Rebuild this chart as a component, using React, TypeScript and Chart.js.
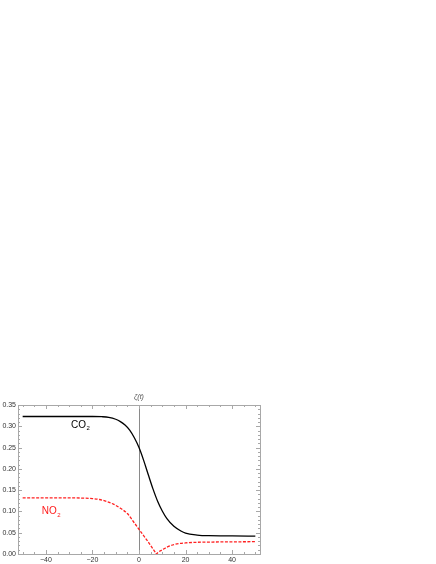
import React, { useEffect, useRef } from "react";
import { Chart, registerables } from "chart.js";

Chart.register(...registerables);

// ---- data ----
const co2X = [-50, -40, -30, -20, -16, -13, -10, -8, -6, -4, -2, 0, 2, 4, 6, 8, 10, 12, 15, 18, 20, 25, 30, 40, 50];
const co2Y = [0.323, 0.323, 0.323, 0.323, 0.3225, 0.321, 0.3165, 0.311, 0.303, 0.291, 0.273, 0.25, 0.22, 0.186, 0.153, 0.124, 0.101, 0.083, 0.065, 0.054, 0.049, 0.0445, 0.043, 0.0425, 0.042];

const no2X = [-50, -40, -30, -25, -20, -17, -14, -11, -8, -5, -2, 0, 2, 4, 6, 7, 7.5, 8, 9, 10, 12, 15, 20, 25, 30, 40, 50];
const no2Y = [0.132, 0.132, 0.1318, 0.1315, 0.1302, 0.128, 0.1235, 0.117, 0.1075, 0.095, 0.073, 0.058, 0.043, 0.028, 0.012, 0.004, 0.0, 0.003, 0.007, 0.0098, 0.016, 0.0222, 0.026, 0.0275, 0.028, 0.0285, 0.029];

const xTicks = [-40, -20, 0, 20, 40];
const yTicks = [0, 0.05, 0.1, 0.15, 0.2, 0.25, 0.3, 0.35];
const xRange = [-52, 52];
const yRange = [0, 0.35];
const xMinorStep = 5;
const yMinorStep = 0.01;

const FONT = '"Liberation Sans", Arial, sans-serif';

const framePlugin = {
  id: "framePlugin",
  beforeDatasetsDraw(chart: any) {
    const { ctx, chartArea: a, scales } = chart;
    const xs = scales.x;
    const ys = scales.y;
    ctx.save();
    // vertical axis line at x = 0
    const x0 = Math.round(xs.getPixelForValue(0)) + 0.5;
    ctx.strokeStyle = "#8a8a8a";
    ctx.lineWidth = 1;
    ctx.beginPath();
    ctx.moveTo(x0, a.top);
    ctx.lineTo(x0, a.bottom);
    ctx.stroke();

    // frame
    ctx.strokeStyle = "#a8a8a8";
    ctx.lineWidth = 1;
    ctx.strokeRect(Math.round(a.left) + 0.5, Math.round(a.top) + 0.5, Math.round(a.right - a.left), Math.round(a.bottom - a.top));

    // ticks
    const major = 4;
    const minor = 2;
    ctx.beginPath();
    for (let v = -50; v <= 50.0001; v += xMinorStep) {
      const px = Math.round(xs.getPixelForValue(v)) + 0.5;
      const isMajor = xTicks.some((t) => Math.abs(t - v) < 1e-6);
      const len = isMajor ? major : minor;
      ctx.moveTo(px, a.bottom);
      ctx.lineTo(px, a.bottom - len);
      ctx.moveTo(px, a.top);
      ctx.lineTo(px, a.top + len);
    }
    for (let i = 0; i <= 35; i++) {
      const v = i * yMinorStep;
      const py = Math.round(ys.getPixelForValue(v)) + 0.5;
      const isMajor = i % 5 === 0;
      const len = isMajor ? major : minor;
      ctx.moveTo(a.left, py);
      ctx.lineTo(a.left + len, py);
      ctx.moveTo(a.right, py);
      ctx.lineTo(a.right - len, py);
    }
    ctx.stroke();

    // axis label above x = 0
    ctx.fillStyle = "#555";
    ctx.font = "italic 7px " + FONT;
    ctx.textAlign = "center";
    ctx.textBaseline = "middle";
    ctx.fillText("ζ(t)", xs.getPixelForValue(0), a.top - 8);
    ctx.restore();
  },
  afterDatasetsDraw(chart: any) {
    const { ctx, scales } = chart;
    const xs = scales.x;
    const ys = scales.y;
    const drawSub = (main: string, sub: string, xv: number, yv: number, color: string) => {
      const px = xs.getPixelForValue(xv);
      const py = ys.getPixelForValue(yv);
      ctx.save();
      ctx.fillStyle = color;
      ctx.textAlign = "left";
      ctx.textBaseline = "middle";
      ctx.font = "10px " + FONT;
      ctx.fillText(main, px, py);
      const w = ctx.measureText(main).width;
      ctx.font = "6px " + FONT;
      ctx.fillText(sub, px + w + 0.5, py + 3.5);
      ctx.restore();
    };
    drawSub("CO", "2", -29.2, 0.303, "#000");
    drawSub("NO", "2", -41.8, 0.1, "#ff1a1a");
  },
};

export default function App() {
  const ref = useRef<HTMLCanvasElement | null>(null);
  useEffect(() => {
    if (!ref.current) return;
    const chart = new Chart(ref.current, {
      type: "line",
      data: {
        datasets: [
          {
            label: "CO2",
            data: co2X.map((x, i) => ({ x, y: co2Y[i] })),
            borderColor: "#000",
            borderWidth: 1.3,
            pointRadius: 0,
            fill: false,
            cubicInterpolationMode: "monotone",
          },
          {
            label: "NO2",
            data: no2X.map((x, i) => ({ x, y: no2Y[i] })),
            borderColor: "#ff2020",
            borderWidth: 1.3,
            borderDash: [3, 1.5],
            pointRadius: 0,
            fill: false,
            cubicInterpolationMode: "monotone",
          },
        ],
      },
      options: {
        animation: false,
        responsive: false,
        maintainAspectRatio: false,
        layout: { padding: { left: 0, top: 405, right: 176, bottom: 0 } },
        plugins: { legend: { display: false }, tooltip: { enabled: false } },
        scales: {
          x: {
            type: "linear",
            min: xRange[0],
            max: xRange[1],
            grid: { display: false, drawTicks: false },
            border: { display: false },
            afterBuildTicks: (s: any) => {
              s.ticks = xTicks.map((v) => ({ value: v }));
            },
            afterFit: (s: any) => {
              s.height = 10;
            },
            ticks: {
              padding: 2,
              color: "#333",
              font: { size: 7, family: FONT },
              maxRotation: 0,
              autoSkip: false,
              callback: (v: any) => (v < 0 ? "\u2212" + Math.abs(v) : String(v)),
            },
          },
          y: {
            type: "linear",
            min: yRange[0],
            max: yRange[1],
            grid: { display: false, drawTicks: false },
            border: { display: false },
            afterBuildTicks: (s: any) => {
              s.ticks = yTicks.map((v) => ({ value: v }));
            },
            afterFit: (s: any) => {
              s.width = 18;
            },
            ticks: {
              padding: 2,
              color: "#333",
              font: { size: 7, family: FONT },
              autoSkip: false,
              callback: (v: any) => Number(v).toFixed(2),
            },
          },
        },
      },
      plugins: [framePlugin],
    } as any);
    return () => chart.destroy();
  }, []);
  return (
    <div style={{ position: "fixed", left: 0, top: 0, width: 436, height: 564, background: "#fff" }}>
      <canvas ref={ref} width={436} height={564} style={{ display: "block" }} />
    </div>
  );
}
